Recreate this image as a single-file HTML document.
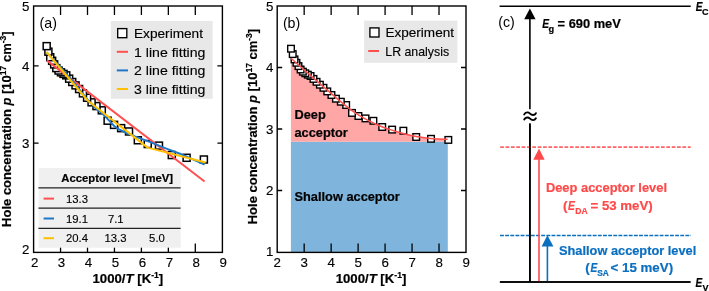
<!DOCTYPE html><html><head><meta charset="utf-8"><style>
html,body{margin:0;padding:0;background:#fff;}
body{width:709px;height:291px;overflow:hidden;}
svg{display:block;will-change:transform;}
text{font-family:"Liberation Sans", sans-serif;stroke:#000;stroke-width:0.14px;} text[font-weight="bold"]{stroke-width:0.2px;} text.r{stroke:#ff4a4a;} text.n{stroke:none;} text.b{stroke:#0b6fc0;}
</style></head><body>
<svg width="709" height="291" viewBox="0 0 709 291">
<rect width="709" height="291" fill="#fff"/>
<defs><clipPath id="ca"><rect x="33.60" y="6.00" width="188.80" height="246.40"/></clipPath>
<clipPath id="cb"><rect x="277.2" y="6" width="188.8" height="246.4"/></clipPath></defs>
<g clip-path="url(#ca)">
<rect x="200.38" y="156.00" width="7.0" height="7.0" fill="#fff" stroke="#000" stroke-width="1.5"/>
<rect x="183.11" y="154.30" width="7.0" height="7.0" fill="#fff" stroke="#000" stroke-width="1.5"/>
<rect x="168.30" y="151.55" width="7.0" height="7.0" fill="#fff" stroke="#000" stroke-width="1.5"/>
<rect x="155.47" y="142.13" width="7.0" height="7.0" fill="#fff" stroke="#000" stroke-width="1.5"/>
<rect x="144.24" y="140.52" width="7.0" height="7.0" fill="#fff" stroke="#000" stroke-width="1.5"/>
<rect x="134.33" y="136.75" width="7.0" height="7.0" fill="#fff" stroke="#000" stroke-width="1.5"/>
<rect x="125.52" y="127.97" width="7.0" height="7.0" fill="#fff" stroke="#000" stroke-width="1.5"/>
<rect x="117.64" y="124.65" width="7.0" height="7.0" fill="#fff" stroke="#000" stroke-width="1.5"/>
<rect x="110.55" y="121.37" width="7.0" height="7.0" fill="#fff" stroke="#000" stroke-width="1.5"/>
<rect x="104.13" y="117.18" width="7.0" height="7.0" fill="#fff" stroke="#000" stroke-width="1.5"/>
<rect x="98.30" y="106.81" width="7.0" height="7.0" fill="#fff" stroke="#000" stroke-width="1.5"/>
<rect x="92.97" y="102.60" width="7.0" height="7.0" fill="#fff" stroke="#000" stroke-width="1.5"/>
<rect x="88.09" y="98.82" width="7.0" height="7.0" fill="#fff" stroke="#000" stroke-width="1.5"/>
<rect x="83.60" y="94.24" width="7.0" height="7.0" fill="#fff" stroke="#000" stroke-width="1.5"/>
<rect x="79.45" y="89.85" width="7.0" height="7.0" fill="#fff" stroke="#000" stroke-width="1.5"/>
<rect x="75.61" y="85.53" width="7.0" height="7.0" fill="#fff" stroke="#000" stroke-width="1.5"/>
<rect x="72.05" y="81.87" width="7.0" height="7.0" fill="#fff" stroke="#000" stroke-width="1.5"/>
<rect x="68.73" y="78.49" width="7.0" height="7.0" fill="#fff" stroke="#000" stroke-width="1.5"/>
<rect x="65.63" y="75.15" width="7.0" height="7.0" fill="#fff" stroke="#000" stroke-width="1.5"/>
<rect x="62.74" y="71.85" width="7.0" height="7.0" fill="#fff" stroke="#000" stroke-width="1.5"/>
<rect x="60.02" y="70.39" width="7.0" height="7.0" fill="#fff" stroke="#000" stroke-width="1.5"/>
<rect x="57.47" y="68.82" width="7.0" height="7.0" fill="#fff" stroke="#000" stroke-width="1.5"/>
<rect x="55.06" y="67.03" width="7.0" height="7.0" fill="#fff" stroke="#000" stroke-width="1.5"/>
<rect x="52.80" y="64.60" width="7.0" height="7.0" fill="#fff" stroke="#000" stroke-width="1.5"/>
<rect x="50.66" y="60.89" width="7.0" height="7.0" fill="#fff" stroke="#000" stroke-width="1.5"/>
<rect x="48.64" y="57.33" width="7.0" height="7.0" fill="#fff" stroke="#000" stroke-width="1.5"/>
<rect x="46.72" y="53.71" width="7.0" height="7.0" fill="#fff" stroke="#000" stroke-width="1.5"/>
<rect x="44.90" y="48.17" width="7.0" height="7.0" fill="#fff" stroke="#000" stroke-width="1.5"/>
<rect x="43.18" y="42.64" width="7.0" height="7.0" fill="#fff" stroke="#000" stroke-width="1.5"/>
<polyline points="46.80,60.40 204.60,181.50" fill="none" stroke="#ff5050" stroke-width="2"/>
<polyline points="46.60,52.40 60.00,66.60 72.70,81.20 87.50,99.60 95.00,107.60 103.20,114.20 110.10,121.60 114.20,126.00 118.40,129.20 126.60,133.00 135.00,136.40 150.90,142.40 166.40,148.60 180.00,153.70 204.60,164.60" fill="none" stroke="#1f77c8" stroke-width="2" stroke-linejoin="round"/>
<polyline points="46.50,52.00 87.60,100.50 147.60,147.60 205.60,162.50" fill="none" stroke="#ffc000" stroke-width="2" stroke-linejoin="round"/>
</g>
<path d="M60.55,252.4V243.4 M60.55,6.0V15.0 M87.50,252.4V243.4 M87.50,6.0V15.0 M114.45,252.4V243.4 M114.45,6.0V15.0 M141.40,252.4V243.4 M141.40,6.0V15.0 M168.35,252.4V243.4 M168.35,6.0V15.0 M195.30,252.4V243.4 M195.30,6.0V15.0 M33.6,143.15H38.6 M222.4,143.15H217.4 M33.6,65.91H38.6 M222.4,65.91H217.4" stroke="#000" stroke-width="1.3" fill="none"/>
<rect x="110.8" y="21" width="101.8" height="77.8" fill="#e8e8e8"/>
<rect x="117.7" y="28.6" width="9.1" height="9.1" fill="#fff" stroke="#000" stroke-width="1.35"/>
<text x="134" y="38.2" font-size="13.4" textLength="69.0" lengthAdjust="spacingAndGlyphs">Experiment</text>
<line x1="116.8" y1="51.8" x2="128" y2="51.8" stroke="#ff5050" stroke-width="2"/>
<text x="134" y="56.6" font-size="13.4" textLength="71.4" lengthAdjust="spacingAndGlyphs">1 line fitting</text>
<line x1="116.8" y1="70.4" x2="128" y2="70.4" stroke="#1f77c8" stroke-width="2"/>
<text x="134" y="75.2" font-size="13.4" textLength="71.4" lengthAdjust="spacingAndGlyphs">2 line fitting</text>
<line x1="116.8" y1="89.0" x2="128" y2="89.0" stroke="#ffc000" stroke-width="2"/>
<text x="134" y="93.8" font-size="13.4" textLength="71.4" lengthAdjust="spacingAndGlyphs">3 line fitting</text>
<rect x="38.6" y="167.9" width="142.1" height="79.8" fill="#f0f0f0"/>
<path d="M38.4,187.9H180.6 M38.4,208.2H180.6 M38.4,228.4H180.6" stroke="#222" stroke-width="1.25"/>
<text x="61.3" y="181.8" font-size="11.3" font-weight="bold">Acceptor level [meV]</text>
<line x1="43.6" y1="198.6" x2="54" y2="198.6" stroke="#ff5050" stroke-width="2"/>
<text x="66.0" y="202.8" font-size="11.3">13.3</text>
<line x1="43.6" y1="218.5" x2="54" y2="218.5" stroke="#1f77c8" stroke-width="2"/>
<text x="66.0" y="222.7" font-size="11.3">19.1</text>
<text x="107.9" y="222.7" font-size="11.3">7.1</text>
<line x1="43.6" y1="238.2" x2="54" y2="238.2" stroke="#ffc000" stroke-width="2"/>
<text x="66.0" y="242.4" font-size="11.3">20.4</text>
<text x="104.5" y="242.4" font-size="11.3">13.3</text>
<text x="149.1" y="242.4" font-size="11.3">5.0</text>
<rect x="33.6" y="6.0" width="188.8" height="246.4" fill="none" stroke="#000" stroke-width="1.4"/>
<text x="39.6" y="27.9" font-size="14.2" class="n">(a)</text>
<text x="34.60" y="267.2" font-size="13.3" text-anchor="middle">2</text>
<text x="61.55" y="267.2" font-size="13.3" text-anchor="middle">3</text>
<text x="88.50" y="267.2" font-size="13.3" text-anchor="middle">4</text>
<text x="115.45" y="267.2" font-size="13.3" text-anchor="middle">5</text>
<text x="142.40" y="267.2" font-size="13.3" text-anchor="middle">6</text>
<text x="169.35" y="267.2" font-size="13.3" text-anchor="middle">7</text>
<text x="196.30" y="267.2" font-size="13.3" text-anchor="middle">8</text>
<text x="223.25" y="267.2" font-size="13.3" text-anchor="middle">9</text>
<text x="29.3" y="10.70" font-size="13.3" text-anchor="end">5</text>
<text x="29.3" y="70.61" font-size="13.3" text-anchor="end">4</text>
<text x="29.3" y="147.85" font-size="13.3" text-anchor="end">3</text>
<text x="29.3" y="253.60" font-size="13.3" text-anchor="end">2</text>
<text x="127.9" y="282.5" font-size="13.2" font-weight="bold" text-anchor="middle">1000/<tspan font-style="italic">T</tspan> [K<tspan font-size="8.6" dy="-4.8">-1</tspan><tspan dy="4.8">]</tspan></text>
<text transform="translate(11.2,226.9) rotate(-90)" font-size="13" font-weight="bold">Hole concentration <tspan font-style="italic">p</tspan> [10<tspan font-size="8.5" dy="-4.8">17</tspan><tspan dy="4.8"> cm</tspan><tspan font-size="8.5" dy="-4.8">-3</tspan><tspan dy="4.8">]</tspan></text>
<g clip-path="url(#cb)">
<rect x="290.9" y="141.70" width="156.9" height="110.70" fill="#7fb5dc"/>
<path d="M290.90,58.20 C292.42,59.53 296.82,63.40 300.00,66.20 C303.18,69.00 306.67,72.07 310.00,75.00 C313.33,77.93 316.67,80.90 320.00,83.80 C323.33,86.70 327.00,89.80 330.00,92.40 C333.00,95.00 335.50,97.27 338.00,99.40 C340.50,101.53 342.67,103.33 345.00,105.20 C347.33,107.07 349.50,108.82 352.00,110.60 C354.50,112.38 357.33,114.27 360.00,115.90 C362.67,117.53 365.50,119.10 368.00,120.40 C370.50,121.70 372.67,122.65 375.00,123.70 C377.33,124.75 379.72,125.80 382.00,126.70 C384.28,127.60 386.53,128.35 388.70,129.10 C390.87,129.85 392.70,130.50 395.00,131.20 C397.30,131.90 400.17,132.67 402.50,133.30 C404.83,133.93 406.72,134.47 409.00,135.00 C411.28,135.53 413.87,136.07 416.20,136.50 C418.53,136.93 420.70,137.28 423.00,137.60 C425.30,137.92 427.50,138.17 430.00,138.40 C432.50,138.63 435.07,138.85 438.00,139.00 C440.93,139.15 446.00,139.25 447.60,139.30 L447.6,141.70 L290.9,141.70 Z" fill="#ffa6a6"/>
<rect x="445.01" y="136.60" width="6.6" height="6.6" fill="#fff" stroke="#000" stroke-width="1.4"/>
<rect x="427.72" y="135.50" width="6.6" height="6.6" fill="#fff" stroke="#000" stroke-width="1.4"/>
<rect x="412.90" y="133.70" width="6.6" height="6.6" fill="#fff" stroke="#000" stroke-width="1.4"/>
<rect x="400.06" y="127.40" width="6.6" height="6.6" fill="#fff" stroke="#000" stroke-width="1.4"/>
<rect x="388.82" y="126.30" width="6.6" height="6.6" fill="#fff" stroke="#000" stroke-width="1.4"/>
<rect x="378.91" y="123.70" width="6.6" height="6.6" fill="#fff" stroke="#000" stroke-width="1.4"/>
<rect x="370.09" y="117.50" width="6.6" height="6.6" fill="#fff" stroke="#000" stroke-width="1.4"/>
<rect x="362.21" y="115.10" width="6.6" height="6.6" fill="#fff" stroke="#000" stroke-width="1.4"/>
<rect x="355.11" y="112.70" width="6.6" height="6.6" fill="#fff" stroke="#000" stroke-width="1.4"/>
<rect x="348.69" y="109.60" width="6.6" height="6.6" fill="#fff" stroke="#000" stroke-width="1.4"/>
<rect x="342.85" y="101.70" width="6.6" height="6.6" fill="#fff" stroke="#000" stroke-width="1.4"/>
<rect x="337.52" y="98.40" width="6.6" height="6.6" fill="#fff" stroke="#000" stroke-width="1.4"/>
<rect x="332.63" y="95.40" width="6.6" height="6.6" fill="#fff" stroke="#000" stroke-width="1.4"/>
<rect x="328.14" y="91.70" width="6.6" height="6.6" fill="#fff" stroke="#000" stroke-width="1.4"/>
<rect x="323.99" y="88.10" width="6.6" height="6.6" fill="#fff" stroke="#000" stroke-width="1.4"/>
<rect x="320.15" y="84.50" width="6.6" height="6.6" fill="#fff" stroke="#000" stroke-width="1.4"/>
<rect x="316.58" y="81.40" width="6.6" height="6.6" fill="#fff" stroke="#000" stroke-width="1.4"/>
<rect x="313.26" y="78.50" width="6.6" height="6.6" fill="#fff" stroke="#000" stroke-width="1.4"/>
<rect x="310.16" y="75.60" width="6.6" height="6.6" fill="#fff" stroke="#000" stroke-width="1.4"/>
<rect x="307.26" y="72.70" width="6.6" height="6.6" fill="#fff" stroke="#000" stroke-width="1.4"/>
<rect x="304.54" y="71.40" width="6.6" height="6.6" fill="#fff" stroke="#000" stroke-width="1.4"/>
<rect x="301.99" y="70.00" width="6.6" height="6.6" fill="#fff" stroke="#000" stroke-width="1.4"/>
<rect x="299.58" y="68.40" width="6.6" height="6.6" fill="#fff" stroke="#000" stroke-width="1.4"/>
<rect x="297.32" y="66.20" width="6.6" height="6.6" fill="#fff" stroke="#000" stroke-width="1.4"/>
<rect x="295.18" y="62.80" width="6.6" height="6.6" fill="#fff" stroke="#000" stroke-width="1.4"/>
<rect x="293.15" y="59.50" width="6.6" height="6.6" fill="#fff" stroke="#000" stroke-width="1.4"/>
<rect x="291.23" y="56.10" width="6.6" height="6.6" fill="#fff" stroke="#000" stroke-width="1.4"/>
<rect x="289.41" y="50.80" width="6.6" height="6.6" fill="#fff" stroke="#000" stroke-width="1.4"/>
<rect x="287.69" y="45.40" width="6.6" height="6.6" fill="#fff" stroke="#000" stroke-width="1.4"/>
<path d="M290.90,58.20 C292.42,59.53 296.82,63.40 300.00,66.20 C303.18,69.00 306.67,72.07 310.00,75.00 C313.33,77.93 316.67,80.90 320.00,83.80 C323.33,86.70 327.00,89.80 330.00,92.40 C333.00,95.00 335.50,97.27 338.00,99.40 C340.50,101.53 342.67,103.33 345.00,105.20 C347.33,107.07 349.50,108.82 352.00,110.60 C354.50,112.38 357.33,114.27 360.00,115.90 C362.67,117.53 365.50,119.10 368.00,120.40 C370.50,121.70 372.67,122.65 375.00,123.70 C377.33,124.75 379.72,125.80 382.00,126.70 C384.28,127.60 386.53,128.35 388.70,129.10 C390.87,129.85 392.70,130.50 395.00,131.20 C397.30,131.90 400.17,132.67 402.50,133.30 C404.83,133.93 406.72,134.47 409.00,135.00 C411.28,135.53 413.87,136.07 416.20,136.50 C418.53,136.93 420.70,137.28 423.00,137.60 C425.30,137.92 427.50,138.17 430.00,138.40 C432.50,138.63 435.07,138.85 438.00,139.00 C440.93,139.15 446.00,139.25 447.60,139.30" fill="none" stroke="#ff5050" stroke-width="1.5"/>
</g>
<text x="294.5" y="119.3" font-size="12.8" font-weight="bold">Deep</text>
<text x="294.5" y="136.6" font-size="12.8" font-weight="bold">acceptor</text>
<text x="294.5" y="201.0" font-size="12.8" font-weight="bold">Shallow acceptor</text>
<path d="M304.17,252.4V243.4 M304.17,6.0V15.0 M331.14,252.4V243.4 M331.14,6.0V15.0 M358.11,252.4V243.4 M358.11,6.0V15.0 M385.08,252.4V243.4 M385.08,6.0V15.0 M412.05,252.4V243.4 M412.05,6.0V15.0 M439.02,252.4V243.4 M439.02,6.0V15.0 M277.2,190.50H282.2 M466.0,190.50H461.0 M277.2,129.00H282.2 M466.0,129.00H461.0 M277.2,67.50H282.2 M466.0,67.50H461.0" stroke="#000" stroke-width="1.3" fill="none"/>
<rect x="364.1" y="20.6" width="93.3" height="42.2" fill="#e8e8e8"/>
<rect x="369.9" y="27.9" width="9.1" height="9.1" fill="#fff" stroke="#000" stroke-width="1.35"/>
<line x1="368.2" y1="51" x2="379" y2="51" stroke="#ff5050" stroke-width="2"/>
<text x="385.4" y="37.1" font-size="13.4" textLength="68.6" lengthAdjust="spacingAndGlyphs">Experiment</text>
<text x="385.3" y="55.7" font-size="13.4" textLength="63.8" lengthAdjust="spacingAndGlyphs">LR analysis</text>
<rect x="277.2" y="6.0" width="188.8" height="246.4" fill="none" stroke="#000" stroke-width="1.4"/>
<text x="282.9" y="27.8" font-size="14.2" class="n">(b)</text>
<text x="277.30" y="267.2" font-size="13.3" text-anchor="middle">2</text>
<text x="304.27" y="267.2" font-size="13.3" text-anchor="middle">3</text>
<text x="331.24" y="267.2" font-size="13.3" text-anchor="middle">4</text>
<text x="358.21" y="267.2" font-size="13.3" text-anchor="middle">5</text>
<text x="385.18" y="267.2" font-size="13.3" text-anchor="middle">6</text>
<text x="412.15" y="267.2" font-size="13.3" text-anchor="middle">7</text>
<text x="439.12" y="267.2" font-size="13.3" text-anchor="middle">8</text>
<text x="466.09" y="267.2" font-size="13.3" text-anchor="middle">9</text>
<text x="273.3" y="10.70" font-size="13.3" text-anchor="end">5</text>
<text x="273.3" y="72.20" font-size="13.3" text-anchor="end">4</text>
<text x="273.3" y="133.70" font-size="13.3" text-anchor="end">3</text>
<text x="273.3" y="195.20" font-size="13.3" text-anchor="end">2</text>
<text x="273.3" y="255.80" font-size="13.3" text-anchor="end">1</text>
<text x="371.0" y="282.5" font-size="13.2" font-weight="bold" text-anchor="middle">1000/<tspan font-style="italic">T</tspan> [K<tspan font-size="8.6" dy="-4.8">-1</tspan><tspan dy="4.8">]</tspan></text>
<text transform="translate(256.9,224.3) rotate(-90)" font-size="13" font-weight="bold">Hole concentration <tspan font-style="italic">p</tspan> [10<tspan font-size="8.5" dy="-4.8">17</tspan><tspan dy="4.8"> cm</tspan><tspan font-size="8.5" dy="-4.8">-3</tspan><tspan dy="4.8">]</tspan></text>
<path d="M499.6,6.2H690.7 M499.9,282H690.5" stroke="#000" stroke-width="1.5"/>
<text x="498.3" y="26.6" font-size="14.2" class="n">(c)</text>
<path d="M529.9,18V109.3 M529.9,123.5V282" stroke="#000" stroke-width="1.6"/>
<path d="M529.9,8.4 L535.6,19.3 L524.2,19.3 Z" fill="#000"/>
<path d="M524.2,114.4 C525.6,111.9 528.3,111.9 530,113.6 S534.4,115.9 535.9,113.2 M524.2,119.5 C525.6,117 528.3,117 530,118.7 S534.4,121 535.9,118.3" stroke="#000" stroke-width="1.9" fill="none" stroke-linecap="round"/>
<text transform="translate(542.3,28.1) scale(0.8,1)" font-size="12.8" font-weight="bold" font-style="italic" fill="#000">E</text><text x="548.6" y="32.3" font-size="9.2" font-weight="bold" fill="#000">g</text>
<text x="557.6" y="28.1" font-size="12.8" font-weight="bold" textLength="63.2" lengthAdjust="spacingAndGlyphs">= 690 meV</text>
<text transform="translate(695.8,11.1) scale(0.8,1)" font-size="12.6" font-weight="bold" font-style="italic" fill="#000">E</text><text x="702.0" y="15.0" font-size="9" font-weight="bold" fill="#000">C</text>
<text transform="translate(695.6,287.0) scale(0.8,1)" font-size="12.6" font-weight="bold" font-style="italic" fill="#000">E</text><text x="702.5" y="290.9" font-size="9" font-weight="bold" fill="#000">V</text>
<path d="M500.2,147.1H690.7" stroke="#ff6464" stroke-width="1.9" stroke-dasharray="3.7,1.66"/>
<path d="M500,235.6H691" stroke="#0b6fc0" stroke-width="1.5" stroke-dasharray="3.9,1.25"/>
<path d="M529.9,123.5V282" stroke="#000" stroke-width="1.6"/>
<path d="M539,159V282" stroke="#ff4a4a" stroke-width="1.6"/>
<path d="M539,148.6 L544.6,159.8 L533.3,159.8 Z" fill="#ff4a4a"/>
<path d="M547.4,246V282" stroke="#0b6fc0" stroke-width="1.6"/>
<path d="M547.4,235.3 L553.4,246.4 L541.6,246.4 Z" fill="#0b6fc0"/>
<path d="M499.9,282H690.5" stroke="#000" stroke-width="1.5"/>
<text x="545.9" y="192.2" font-size="12.9" font-weight="bold" fill="#ff4a4a" class="r">Deep acceptor level</text>
<text x="563.0" y="210.3" font-size="13.4" font-weight="bold" fill="#ff4a4a" class="r">(</text>
<text transform="translate(567.9,210.3) scale(0.8,1)" font-size="12.9" font-weight="bold" font-style="italic" fill="#ff4a4a" class="r">E</text><text x="575.2" y="213.7" font-size="8.6" font-weight="bold" fill="#ff4a4a" class="r">DA</text>
<text x="590.5" y="210.3" font-size="12.9" font-weight="bold" fill="#ff4a4a" class="r" textLength="62.2" lengthAdjust="spacingAndGlyphs">= 53 meV)</text>
<text x="559" y="255.2" font-size="12.8" font-weight="bold" fill="#0b6fc0" class="b">Shallow acceptor level</text>
<text x="585.2" y="272" font-size="13.4" font-weight="bold" fill="#0b6fc0" class="b">(</text>
<text transform="translate(590.4,272) scale(0.8,1)" font-size="12.8" font-weight="bold" font-style="italic" fill="#0b6fc0" class="b">E</text><text x="597.2" y="276.0" font-size="8.4" font-weight="bold" fill="#0b6fc0" class="b">SA</text>
<text x="610.5" y="272" font-size="12.8" font-weight="bold" fill="#0b6fc0" class="b" textLength="62.6" lengthAdjust="spacingAndGlyphs">&lt; 15 meV)</text>
</svg></body></html>
